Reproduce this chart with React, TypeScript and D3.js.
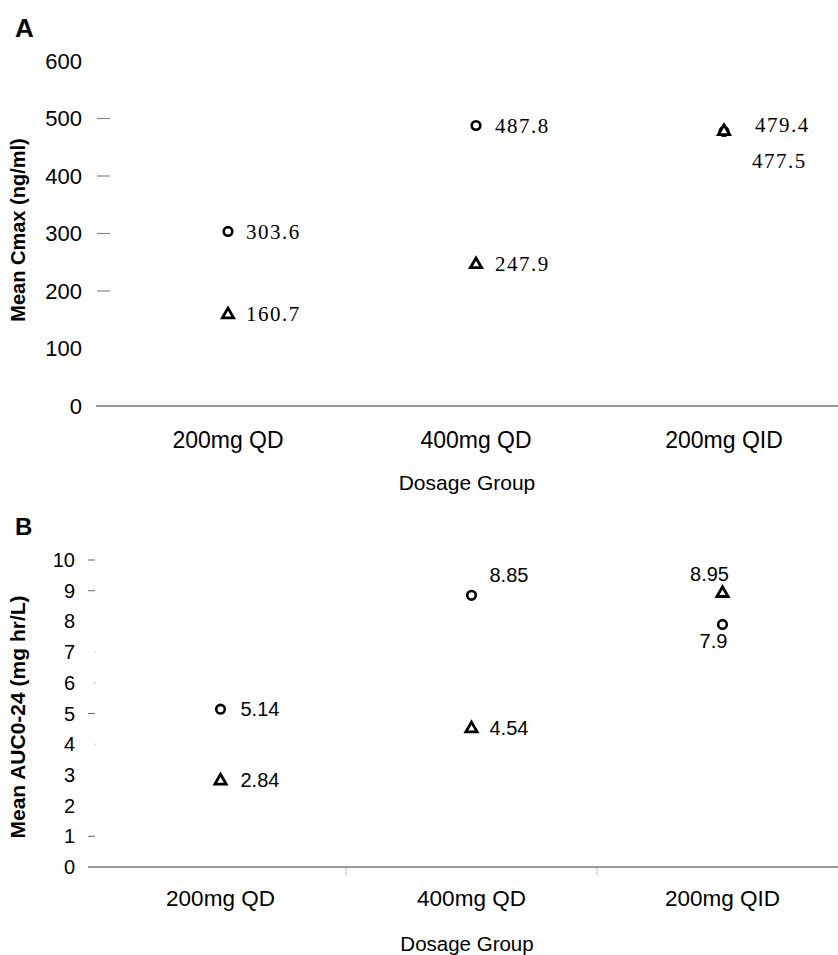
import * as d3 from 'd3';

const CATEGORIES = ['200mg QD', '400mg QD', '200mg QID'];
const CMAX_CIRCLE = [303.6, 487.8, 477.5];
const CMAX_TRIANGLE = [160.7, 247.9, 479.4];
const AUC_CIRCLE = [5.14, 8.85, 7.9];
const AUC_TRIANGLE = [2.84, 4.54, 8.95];
const CMAX_TICKS = [0, 100, 200, 300, 400, 500, 600];
const AUC_TICKS = [0, 1, 2, 3, 4, 5, 6, 7, 8, 9, 10];

const SANS = '"Liberation Sans", Arial, sans-serif';
const SERIF = '"Liberation Serif", "Times New Roman", serif';
const W = 838, H = 955;

// label offsets relative to the marker: [dx, dy, anchor]
const A_CIRCLE_LBL: [number, number, string][] = [[18, 0, 'start'], [19, 0, 'start'], [28, 29, 'start']];
const A_TRI_LBL: [number, number, string][] = [[18, 0, 'start'], [19, 0, 'start'], [31, -6, 'start']];
const B_CIRCLE_LBL: [number, number, string][] = [[20, 0, 'start'], [18, -20, 'start'], [-9, 17, 'middle']];
const B_TRI_LBL: [number, number, string][] = [[20, 0, 'start'], [18, 0, 'start'], [-13, -18, 'middle']];

const tri = d3.symbol(d3.symbolTriangle, 55)();

function Marker({ kind, x, y }: { kind: string; x: number; y: number }) {
  if (kind === 'circle')
    return <circle cx={x} cy={y} r={4.3} fill="#fff" stroke="#000" strokeWidth={2.6} />;
  return <path d={tri!} transform={`translate(${x},${y + 1})`} fill="#fff" stroke="#000" strokeWidth={2.8} strokeLinejoin="miter" />;
}

export default function App() {
  // panel A
  const xA = d3.scaleBand().domain(CATEGORIES).range([104, 848]);
  const yA = d3.scaleLinear().domain([0, 600]).range([406, 61]);
  // panel B
  const xB = d3.scaleBand().domain(CATEGORIES).range([95, 848]);
  const yB = d3.scaleLinear().domain([0, 10]).range([867, 560]);
  const cA = (c: string) => xA(c)! + xA.bandwidth() / 2;
  const cB = (c: string) => xB(c)! + xB.bandwidth() / 2;

  return (
    <div style={{ position: 'absolute', left: 0, top: 0 }}>
      <svg width={W} height={H} style={{ display: 'block', background: '#fff' }}>
        {/* Panel A */}
        <text x={15} y={37} fontFamily={SANS} fontWeight="bold" fontSize={26}>A</text>
        <text transform="translate(25,230) rotate(-90)" textAnchor="middle" fontFamily={SANS} fontWeight="bold" fontSize={20}>Mean Cmax (ng/ml)</text>
        {CMAX_TICKS.map(t => (
          <g key={t}>
            <text x={82} y={yA(t)} dy="0.35em" textAnchor="end" fontFamily={SANS} fontSize={22}>{t}</text>
            {t >= 200 && t <= 500 && <line x1={97} x2={110} y1={yA(t)} y2={yA(t)} stroke="#888" strokeWidth={1.2} />}
          </g>
        ))}
        <line x1={96} x2={W} y1={yA(0)} y2={yA(0)} stroke="#777" strokeWidth={1.5} />
        {CATEGORIES.map(c => (
          <text key={c} x={cA(c)} y={448} textAnchor="middle" fontFamily={SANS} fontSize={23}>{c}</text>
        ))}
        <text x={467} y={490} textAnchor="middle" fontFamily={SANS} fontSize={21}>Dosage Group</text>
        {CATEGORIES.map((c, i) => <Marker key={'ac' + c} kind="circle" x={cA(c)} y={yA(CMAX_CIRCLE[i])} />)}
        {CATEGORIES.map((c, i) => <Marker key={'at' + c} kind="tri" x={cA(c)} y={yA(CMAX_TRIANGLE[i])} />)}
        {CATEGORIES.map((c, i) => (
          <text key={'acl' + c} x={cA(c) + A_CIRCLE_LBL[i][0]} y={yA(CMAX_CIRCLE[i]) + A_CIRCLE_LBL[i][1]} dy="0.35em"
            textAnchor={A_CIRCLE_LBL[i][2]} fontFamily={SERIF} fontSize={21} letterSpacing={1.5}>{CMAX_CIRCLE[i].toFixed(1)}</text>
        ))}
        {CATEGORIES.map((c, i) => (
          <text key={'atl' + c} x={cA(c) + A_TRI_LBL[i][0]} y={yA(CMAX_TRIANGLE[i]) + A_TRI_LBL[i][1]} dy="0.35em"
            textAnchor={A_TRI_LBL[i][2]} fontFamily={SERIF} fontSize={21} letterSpacing={1.5}>{CMAX_TRIANGLE[i].toFixed(1)}</text>
        ))}

        {/* Panel B */}
        <text x={15} y={535} fontFamily={SANS} fontWeight="bold" fontSize={24}>B</text>
        <text transform="translate(25,717) rotate(-90)" textAnchor="middle" fontFamily={SANS} fontWeight="bold" fontSize={21}>Mean AUC0-24 (mg hr/L)</text>
        {AUC_TICKS.map(t => (
          <g key={t}>
            <text x={75} y={yB(t)} dy="0.35em" textAnchor="end" fontFamily={SANS} fontSize={20}>{t}</text>
            {[1, 5, 9, 10].includes(t) && <line x1={88} x2={95} y1={yB(t)} y2={yB(t)} stroke="#666" strokeWidth={1} />}
            {[4, 6, 7].includes(t) && <line x1={94} x2={96} y1={yB(t)} y2={yB(t)} stroke="#ccc" strokeWidth={1} />}
          </g>
        ))}
        <line x1={88} x2={W} y1={yB(0)} y2={yB(0)} stroke="#999" strokeWidth={2} />
        {CATEGORIES.slice(1).map(c => (
          <line key={'tk' + c} x1={xB(c)} x2={xB(c)} y1={yB(0) + 1} y2={yB(0) + 9} stroke="#999" strokeWidth={1} strokeDasharray="1,1" />
        ))}
        {CATEGORIES.map(c => (
          <text key={'b' + c} x={cB(c)} y={906} textAnchor="middle" fontFamily={SANS} fontSize={22.5}>{c}</text>
        ))}
        <text x={467} y={951} textAnchor="middle" fontFamily={SANS} fontSize={20.5}>Dosage Group</text>
        {CATEGORIES.map((c, i) => <Marker key={'bc' + c} kind="circle" x={cB(c)} y={yB(AUC_CIRCLE[i])} />)}
        {CATEGORIES.map((c, i) => <Marker key={'bt' + c} kind="tri" x={cB(c)} y={yB(AUC_TRIANGLE[i])} />)}
        {CATEGORIES.map((c, i) => (
          <text key={'bcl' + c} x={cB(c) + B_CIRCLE_LBL[i][0]} y={yB(AUC_CIRCLE[i]) + B_CIRCLE_LBL[i][1]} dy="0.35em"
            textAnchor={B_CIRCLE_LBL[i][2]} fontFamily={SANS} fontSize={20}>{String(AUC_CIRCLE[i])}</text>
        ))}
        {CATEGORIES.map((c, i) => (
          <text key={'btl' + c} x={cB(c) + B_TRI_LBL[i][0]} y={yB(AUC_TRIANGLE[i]) + B_TRI_LBL[i][1]} dy="0.35em"
            textAnchor={B_TRI_LBL[i][2]} fontFamily={SANS} fontSize={20}>{String(AUC_TRIANGLE[i])}</text>
        ))}
      </svg>
    </div>
  );
}
